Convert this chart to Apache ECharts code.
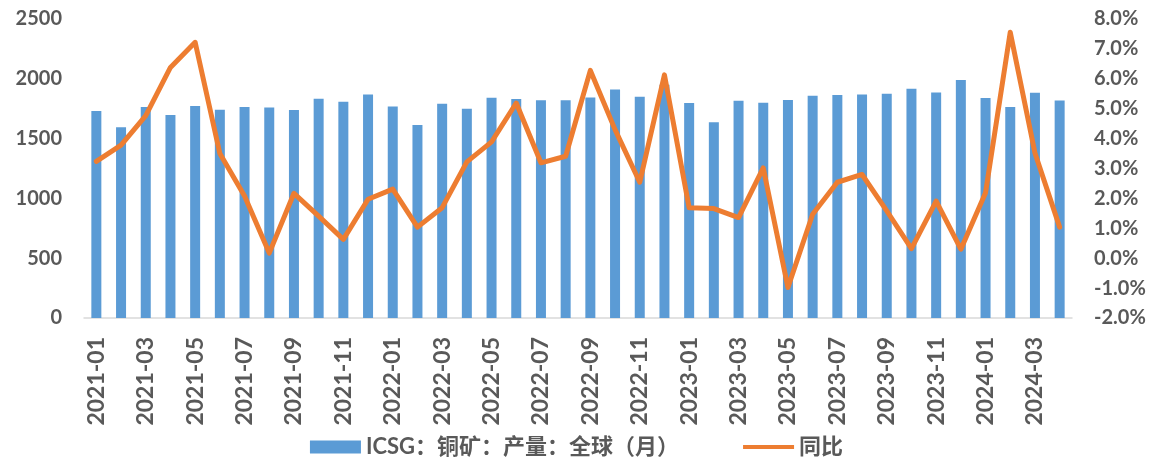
<!DOCTYPE html>
<html>
<head>
    <meta charset="UTF-8">
    <title>ICSG 铜矿产量</title>
    <script src="https://cdn.jsdelivr.net/npm/echarts@6/dist/echarts.min.js"></script>
    <style>
        html, body { margin: 0; padding: 0; background: #fff; }
        #chart { width: 1153px; height: 463px; }
    </style>
</head>
<body>
<div id="chart"></div>
<script>
    // months 2021-01 .. 2024-04
    var months = [
        '2021-01','2021-02','2021-03','2021-04','2021-05','2021-06','2021-07','2021-08','2021-09','2021-10','2021-11','2021-12',
        '2022-01','2022-02','2022-03','2022-04','2022-05','2022-06','2022-07','2022-08','2022-09','2022-10','2022-11','2022-12',
        '2023-01','2023-02','2023-03','2023-04','2023-05','2023-06','2023-07','2023-08','2023-09','2023-10','2023-11','2023-12',
        '2024-01','2024-02','2024-03','2024-04'
    ];

    // ICSG 铜矿产量 全球 (千吨)
    var output = [
        1731, 1594, 1764, 1697, 1772, 1742, 1764, 1761, 1739, 1833, 1808, 1869,
        1769, 1614, 1792, 1750, 1842, 1831, 1820, 1820, 1844, 1911, 1850, 1950,
        1797, 1636, 1817, 1800, 1822, 1858, 1864, 1869, 1875, 1917, 1886, 1989,
        1839, 1764, 1883, 1819
    ];

    // 同比 (%)
    var yoy = [
        3.24, 3.78, 4.77, 6.38, 7.22, 3.50, 2.08, 0.17, 2.17, 1.41, 0.63, 1.97,
        2.31, 1.04, 1.69, 3.22, 3.89, 5.19, 3.19, 3.41, 6.28, 4.30, 2.54, 6.13,
        1.69, 1.66, 1.36, 3.02, -0.98, 1.47, 2.54, 2.80, 1.58, 0.32, 1.91, 0.30,
        2.19, 7.56, 3.52, 1.04
    ];

    var leftTicks = [0, 500, 1000, 1500, 2000, 2500];
    var rightTicks = [-2, -1, 0, 1, 2, 3, 4, 5, 6, 7, 8];

    var textColor = '#595959';
    var fontFam = 'Lato, "Noto Sans CJK SC", sans-serif';

    var chart = echarts.init(document.getElementById('chart'));

    var option = {
        animation: false,
        textStyle: { fontFamily: fontFam },
        grid: { left: 84, right: 81, top: 19, bottom: 145, containLabel: false },
        legend: {
            top: 431,
            left: 'center',
            itemGap: 64,
            textStyle: { color: textColor, fontSize: 22, fontWeight: 'bold', fontFamily: fontFam },
            data: [
                { name: 'ICSG：铜矿：产量：全球（月）', icon: 'rect', itemStyle: { color: '#5B9BD5' } },
                { name: '同比', icon: 'path://M0,0 M51,13 M0,4.5 L51,4.5 L51,8.5 L0,8.5 Z', itemStyle: { color: '#ED7D31' } }
            ],
            itemWidth: 51,
            itemHeight: 13
        },
        xAxis: {
            type: 'category',
            data: months,
            boundaryGap: true,
            axisLine: { lineStyle: { color: '#D9D9D9', width: 1.5 } },
            axisTick: { interval: 1, length: 6, lineStyle: { color: '#D9D9D9', width: 1.5 } },
            axisLabel: {
                interval: 1,
                rotate: 90,
                margin: 19,
                color: textColor,
                fontSize: 23,
                fontWeight: 'bold',
                fontFamily: fontFam
            }
        },
        yAxis: [
            {
                type: 'value',
                min: leftTicks[0],
                max: leftTicks[leftTicks.length - 1],
                interval: 500,
                axisLine: { show: false },
                axisTick: { show: false },
                splitLine: { show: false },
                axisLabel: {
                    color: textColor, fontSize: 20, fontWeight: 'bold', margin: 22,
                    formatter: function (v) { return String(v); }
                }
            },
            {
                type: 'value',
                min: rightTicks[0],
                max: rightTicks[rightTicks.length - 1],
                interval: 1,
                axisLine: { show: false },
                axisTick: { show: false },
                splitLine: { show: false },
                axisLabel: {
                    color: textColor, fontSize: 20, fontWeight: 'bold', margin: 22,
                    formatter: function (v) { return v.toFixed(1) + '%'; }
                }
            }
        ],
        series: [
            {
                name: 'ICSG：铜矿：产量：全球（月）',
                type: 'bar',
                yAxisIndex: 0,
                barWidth: 10,
                itemStyle: { color: '#5B9BD5' },
                data: output
            },
            {
                name: '同比',
                type: 'line',
                yAxisIndex: 1,
                symbol: 'none',
                lineStyle: { color: '#ED7D31', width: 5, cap: 'round', join: 'round' },
                itemStyle: { color: '#ED7D31' },
                data: yoy
            }
        ]
    };

    chart.setOption(option);
</script>
</body>
</html>
